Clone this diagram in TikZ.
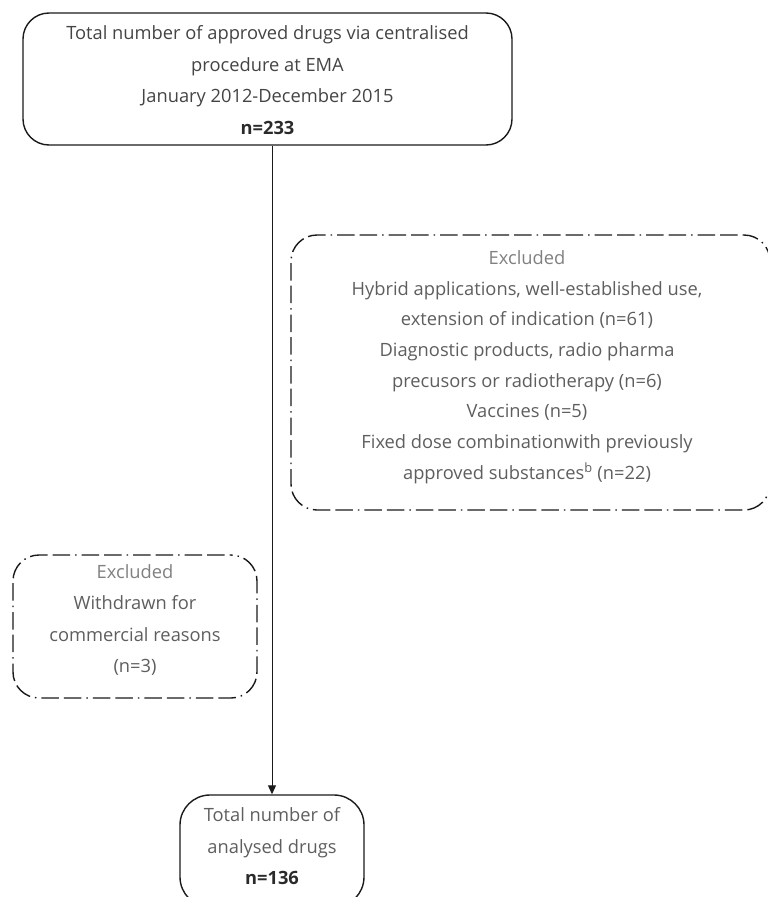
\documentclass[tikz,border=0pt]{standalone}
\usepackage{fontspec}
\setmainfont{Open Sans}
\usetikzlibrary{arrows.meta}
\definecolor{txt}{HTML}{5E5E5E}
\definecolor{txtdark}{HTML}{444444}
\definecolor{bold}{HTML}{2A2A2A}
\definecolor{hdr}{HTML}{808080}
\definecolor{edge}{HTML}{1A1A1A}
\begin{document}
\begin{tikzpicture}[x=1pt,y=-1pt,
  solidbox/.style={draw=edge, line width=1.4pt, rounded corners=26pt, inner sep=0pt},
  dashbox/.style={solidbox, dash pattern=on 1.5pt off 5pt on 17.5pt off 5pt on 17.5pt off 5pt},
  bodytext/.style={align=center, inner sep=0pt, text=txt, font={\fontsize{18.3pt}{31.5pt}\selectfont}},
  conn/.style={draw=edge, line width=1pt, -{Triangle[length=9pt,width=8pt]}}
]
\useasboundingbox (0,0) rectangle (768,897);
% boxes
\node[solidbox, minimum width=489pt, minimum height=132pt] (top) at (267.5,79) {};
\node[dashbox, minimum width=479pt, minimum height=275pt] (exr) at (530.5,372.5) {};
\node[dashbox, minimum width=244pt, minimum height=143pt] (exl) at (135,626.5) {};
\node[solidbox, minimum width=184pt, minimum height=112pt, rounded corners=30pt] (bot) at (272,851) {};
% texts
\node[bodytext, text=txtdark, font={\fontsize{18.3pt}{31.7pt}\selectfont}] (toptext) at (267.5,80)
  {Total number of approved drugs via centralised\\procedure at EMA\\January 2012-December 2015\\\textcolor{bold}{\textbf{n=233}}};
\node[bodytext, font={\fontsize{18.3pt}{30.7pt}\selectfont}] (exrtext) at (527,367)
  {\textcolor{hdr}{Excluded}\\Hybrid applications, well-established use,\\extension of indication (n=61)\\Diagnostic products, radio pharma\\precusors or radiotherapy (n=6)\\Vaccines (n=5)\\Fixed dose combinationwith previously\\approved substances\textsuperscript{b} (n=22)};
\node[bodytext] (exltext) at (135,620)
  {\textcolor{hdr}{Excluded}\\Withdrawn for\\commercial reasons\\(n=3)};
\node[bodytext] (bottext) at (272,846.5)
  {Total number of\\analysed drugs\\\textcolor{bold}{\textbf{n=136}}};
% connector
\draw[conn] (bot.north |- top.south) -- (bot.north);
\end{tikzpicture}
\end{document}
